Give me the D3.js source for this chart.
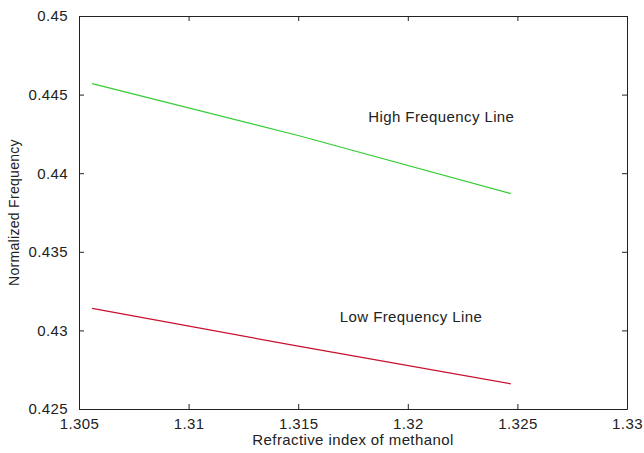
<!DOCTYPE html>
<html>
<head>
<meta charset="utf-8">
<script src="https://cdn.jsdelivr.net/npm/d3@7"></script>
<style>
  body { margin: 0; background: #fff; }
  text { font-family: "Liberation Sans", Arial, sans-serif; fill: #222; }
</style>
</head>
<body>
<div id="chart"></div>
<script>
(function(){
  var width = 644;
  var height = 453;
  var margin = {top: 16, right: 17, bottom: 44, left: 79};

  // data
  var refractiveIndex = [1.3056, 1.3150, 1.3247];
  var highFreq = [0.4457, 0.4424, 0.4387];
  var lowFreq = [0.4314, 0.4290, 0.4266];
  var xTicks = [1.305, 1.31, 1.315, 1.32, 1.325, 1.33];
  var yTicks = [0.425, 0.43, 0.435, 0.44, 0.445, 0.45];

  var svg = d3.select('#chart').append('svg')
      .attr('width', width)
      .attr('height', height);

  var x = d3.scaleLinear().domain([1.305, 1.33]).range([margin.left, width - margin.right]);
  var y = d3.scaleLinear().domain([0.425, 0.45]).range([height - margin.bottom, margin.top]);

  var fmt = function(d){ return String(+d.toFixed(3)); };

  // axes, MATLAB style: ticks pointing inward on all four sides
  var bottom = svg.append('g')
      .attr('transform', 'translate(0,' + (height - margin.bottom) + ')')
      .call(d3.axisBottom(x).tickValues(xTicks).tickSizeInner(-5).tickSizeOuter(0).tickPadding(9).tickFormat(fmt));
  var top = svg.append('g')
      .attr('transform', 'translate(0,' + margin.top + ')')
      .call(d3.axisTop(x).tickValues(xTicks).tickSizeInner(-5).tickSizeOuter(0).tickFormat(''));
  var left = svg.append('g')
      .attr('transform', 'translate(' + margin.left + ',0)')
      .call(d3.axisLeft(y).tickValues(yTicks).tickSizeInner(-5).tickSizeOuter(0).tickPadding(11).tickFormat(fmt));
  var right = svg.append('g')
      .attr('transform', 'translate(' + (width - margin.right) + ',0)')
      .call(d3.axisRight(y).tickValues(yTicks).tickSizeInner(-5).tickSizeOuter(0).tickFormat(''));

  [bottom, top, left, right].forEach(function(g){
    g.select('.domain').attr('stroke', '#222');
    g.selectAll('.tick line').attr('stroke', '#222');
    g.selectAll('text')
      .attr('font-family', '"Liberation Sans", Arial, sans-serif')
      .attr('font-size', '15px')
      .attr('letter-spacing', '0.4px')
      .attr('fill', '#222');
  });

  // lines
  var line = d3.line()
      .x(function(d){ return x(d[0]); })
      .y(function(d){ return y(d[1]); });

  var series = [
    {values: highFreq, color: '#33cc33'},
    {values: lowFreq, color: '#c8102e'}
  ];

  svg.selectAll('path.series')
      .data(series)
      .enter()
      .append('path')
      .attr('class', 'series')
      .attr('fill', 'none')
      .attr('stroke', function(d){ return d.color; })
      .attr('stroke-width', 1.2)
      .attr('d', function(d){
        return line(refractiveIndex.map(function(r, i){ return [r, d.values[i]]; }));
      });

  // annotations
  svg.append('text')
      .attr('x', x(1.3182))
      .attr('y', y(0.44327))
      .attr('font-size', '15px')
      .attr('letter-spacing', '0.4px')
      .text('High Frequency Line');
  svg.append('text')
      .attr('x', x(1.3169))
      .attr('y', y(0.43056))
      .attr('font-size', '15px')
      .attr('letter-spacing', '0.4px')
      .text('Low Frequency Line');

  // axis titles
  svg.append('text')
      .attr('x', (margin.left + width - margin.right) / 2)
      .attr('y', 445)
      .attr('text-anchor', 'middle')
      .attr('font-size', '15px')
      .attr('letter-spacing', '0.4px')
      .text('Refractive index of methanol');
  svg.append('text')
      .attr('transform', 'translate(19,' + ((margin.top + height - margin.bottom) / 2) + ') rotate(-90)')
      .attr('text-anchor', 'middle')
      .attr('font-size', '14px')
      .attr('letter-spacing', '0.3px')
      .text('Normalized Frequency');
})();
</script>
</body>
</html>
